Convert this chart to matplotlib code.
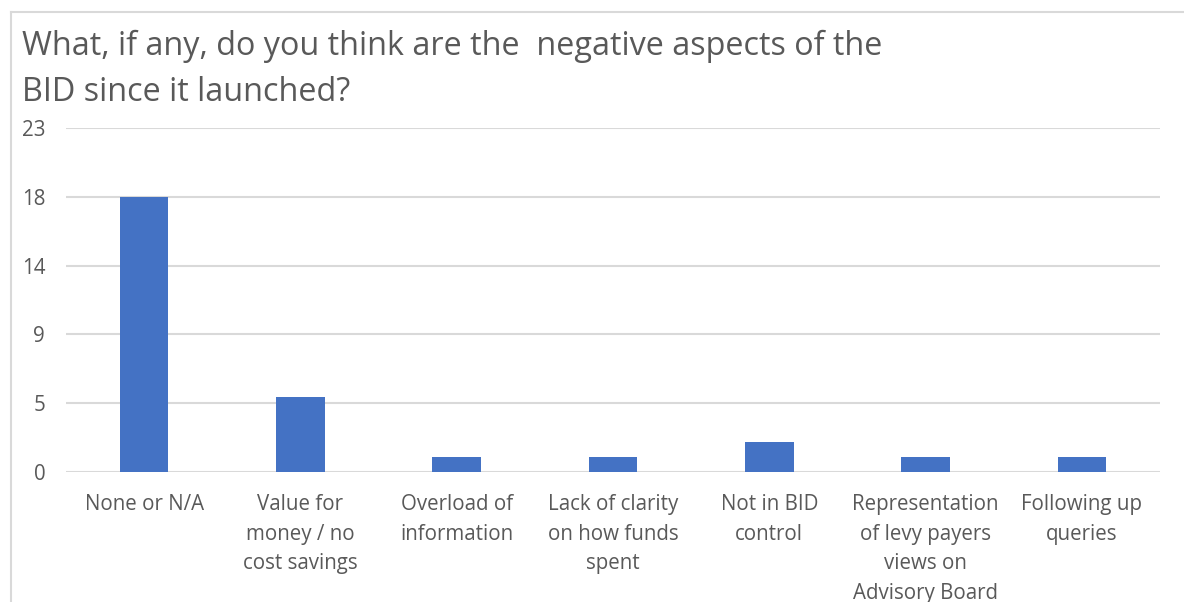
import numpy as np
import matplotlib.pyplot as plt
from matplotlib.lines import Line2D

plt.rcParams['font.family'] = ['Open Sans', 'DejaVu Sans']

categories = ['None or N/A', 'Value for\nmoney / no\ncost savings', 'Overload of\ninformation',
              'Lack of clarity\non how funds\nspent', 'Not in BID\ncontrol',
              'Representation\nof levy payers\nviews on\nAdvisory Board', 'Following up\nqueries']
values = [18.4, 5, 1, 1, 2, 1, 1]
ytick_vals = [0, 4.6, 9.2, 13.8, 18.4, 23]
ytick_labels = ['0', '5', '9', '14', '18', '23']

W, H = 1184, 602
fig = plt.figure(figsize=(W / 100, H / 100), dpi=100)
ax = fig.add_axes([66 / W, 1 - 472 / H, (1160 - 66) / W, (472 - 128) / H])

x = np.arange(len(categories))
ax.bar(x, values, width=0.31, color='#4472c4', zorder=3)

ax.set_xlim(-0.5, len(categories) - 0.5)
ax.set_ylim(0, 23)
ax.set_yticks(ytick_vals)
ax.set_yticklabels(ytick_labels)
ax.set_xticks(x)
ax.set_xticklabels(categories, linespacing=1.53, va='top')
ax.grid(axis='y', color='#d9d9d9', linewidth=1.5, zorder=0)
for s in ax.spines.values():
    s.set_visible(False)
ax.tick_params(axis='both', length=0, labelsize=14.8, colors='#595959')
ax.tick_params(axis='x', pad=16)
ax.tick_params(axis='y', pad=15)

fig.text(22 / W, 1 - 30 / H, 'What, if any, do you think are the  negative aspects of the\nBID since it launched?',
         fontsize=23.3, color='#595959', ha='left', va='top', linespacing=1.5)

# chart border (left and top only visible)
fig.add_artist(Line2D([10.5 / W, 10.5 / W], [0, 1 - 12 / H], color='#d9d9d9', lw=1.5, transform=fig.transFigure))
fig.add_artist(Line2D([10.5 / W, 1], [1 - 12 / H, 1 - 12 / H], color='#d9d9d9', lw=1.5, transform=fig.transFigure))

fig.savefig('out.png', dpi=100)
